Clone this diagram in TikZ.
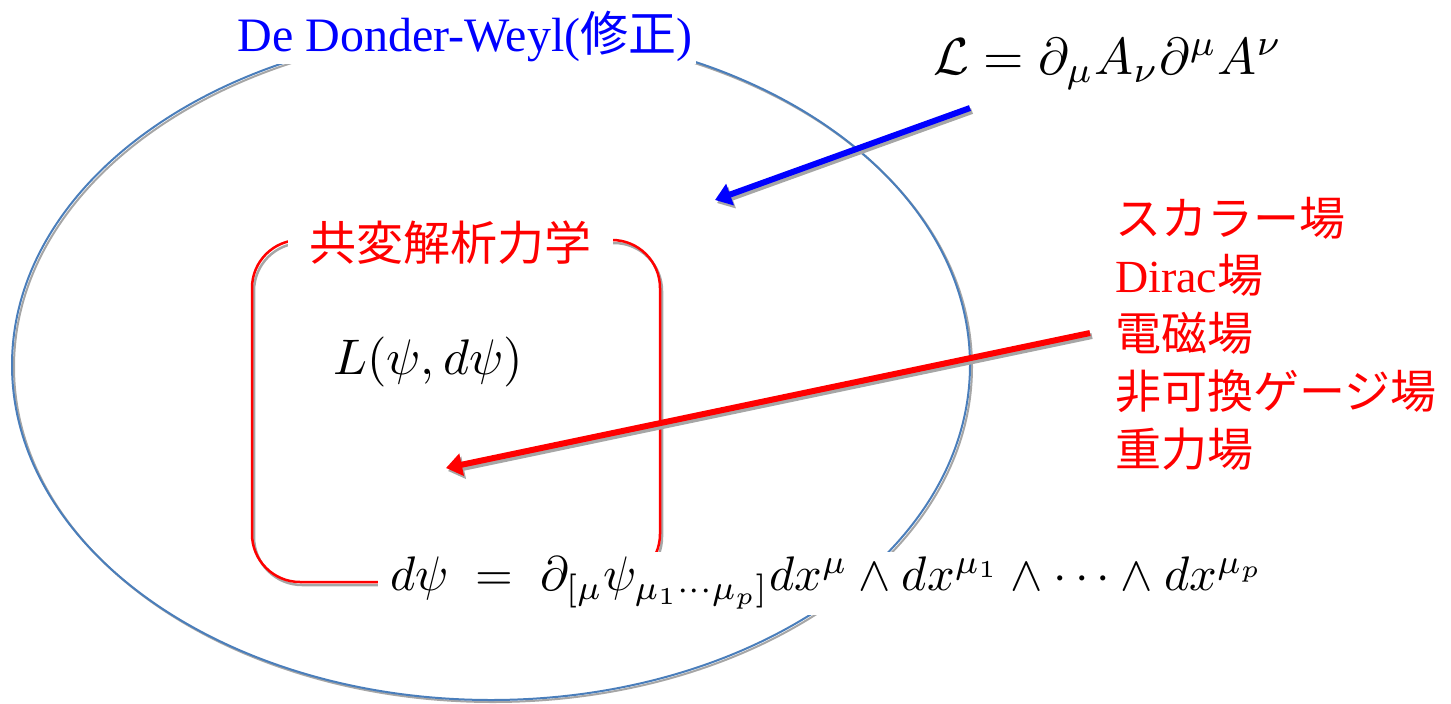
\documentclass[tikz,border=0pt]{standalone}
\usepackage{graphicx}
\usepackage{fontspec}
\setmainfont{Liberation Serif}
\newfontfamily\cjk{Noto Sans CJK JP}
\usetikzlibrary{arrows.meta}
\definecolor{ellblue}{HTML}{4A7EBB}
\definecolor{shadowgray}{HTML}{A6A6A6}
\begin{document}
\begin{tikzpicture}[x=1pt,y=-1pt,
  ellline/.style={draw=ellblue,line width=2pt},
  ellshadow/.style={draw=shadowgray,line width=2pt},
  boxline/.style={draw=red,line width=2.5pt,rounded corners=48pt},
  boxshadow/.style={draw=shadowgray,line width=2.5pt,rounded corners=48pt},
  bluearrow/.style={draw=blue,line width=6pt,-{Triangle[length=16pt,width=22pt]}},
  redarrow/.style={draw=red,line width=6pt,-{Triangle[length=16pt,width=22pt]}},
  arrowshadow/.style={draw=shadowgray,line width=6pt,-{Triangle[length=16pt,width=22pt]}},
  cover/.style={fill=white,inner sep=0pt},
  fieldlabel/.style={anchor=west,text=red,inner sep=0pt,font=\fontsize{46}{50}\selectfont}
]
\useasboundingbox (0,0) rectangle (1451,704);
% outer ellipse
\coordinate (ec) at (491,365);
\draw[ellshadow] ([shift={(2,2)}]ec) ellipse [x radius=479pt, y radius=335pt];
\draw[ellline] (ec) ellipse [x radius=479pt, y radius=335pt];
% rounded box
\coordinate (rtl) at (252,240);
\coordinate (rbr) at (660,582);
\draw[boxshadow] ([shift={(2,3)}]rtl) rectangle ([shift={(2,3)}]rbr);
\draw[boxline] (rtl) rectangle (rbr);
% arrows
\coordinate (bs) at (970,108);
\coordinate (be) at (715,200);
\draw[arrowshadow] ([shift={(2,3)}]bs) -- ([shift={(2,3)}]be);
\draw[bluearrow] (bs) -- (be);
\coordinate (rs) at (1090,333);
\coordinate (re) at (446,468);
\draw[arrowshadow] ([shift={(2,3)}]rs) -- ([shift={(2,3)}]re);
\draw[redarrow] (rs) -- (re);
% title
\node[cover,minimum width=462pt,minimum height=56pt,text=blue,
      font=\fontsize{48}{52}\selectfont] (title) at (465,36)
  {De Donder-Weyl({\cjk 修正})};
% inner title
\node[cover,minimum width=325pt,minimum height=50pt,text=red,
      font=\fontsize{47}{50}\selectfont] (cov) at (450,243) {\cjk 共変解析力学};
% formulas
\node[inner sep=0pt] (Lag) at (1108,64)
  {\scalebox{5.2}{$\mathcal{L}=\partial_\mu A_\nu\partial^\mu A^\nu$}};
\node[inner sep=0pt] (Lpsi) at (428,362)
  {\scalebox{5.0}{$L(\psi,d\psi)$}};
\node[cover,anchor=west,inner xsep=12pt,minimum height=63pt] (dpsi) at (378,583)
  {\scalebox{4.85}{$d\psi\;=\;\partial_{[\mu}\psi_{\mu_1\cdots\mu_p]}dx^\mu\wedge dx^{\mu_1}\wedge\cdots\wedge dx^{\mu_p}$}};
% field labels
\node[fieldlabel] (f1) at (1115,218) {\cjk スカラー場};
\node[fieldlabel] (f2) at (1115,275) {Dirac{\cjk 場}};
\node[fieldlabel] (f3) at (1115,333) {\cjk 電磁場};
\node[fieldlabel] (f4) at (1115,391) {\cjk 非可換ゲージ場};
\node[fieldlabel] (f5) at (1115,449) {\cjk 重力場};
\end{tikzpicture}
\end{document}
